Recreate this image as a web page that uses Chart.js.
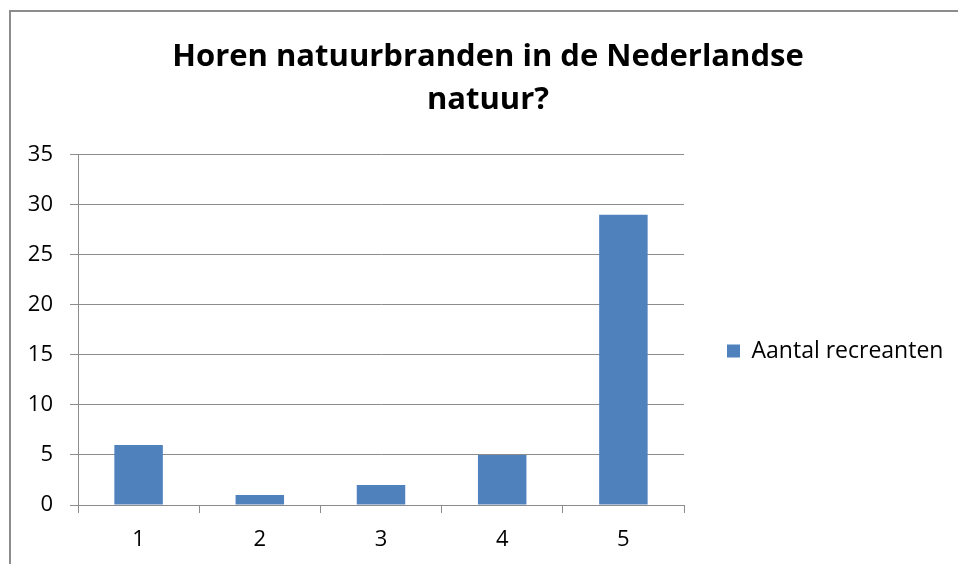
<!DOCTYPE html>
<html>
<head>
<meta charset="utf-8">
<script src="https://cdn.jsdelivr.net/npm/chart.js@4/dist/chart.umd.min.js"></script>
<style>
  html, body { margin: 0; padding: 0; background: #fff; }
  #wrap { position: absolute; left: 0; top: 0; width: 958px; height: 564px; }
</style>
</head>
<body>
<div id="wrap"><canvas id="chart" width="958" height="564"></canvas></div>
<script>
// chart data
const categories = ['1', '2', '3', '4', '5'];
const aantalRecreanten = [6, 1, 2, 5, 29];
const seriesLabel = 'Aantal recreanten';
const titleLines = ['Horen natuurbranden in de Nederlandse', 'natuur?'];
const yMin = 0;
const yMax = 35;
const yStep = 5;

// grey frame round the chart, like the office export
const framePlugin = {
    id: 'frame',
    beforeDraw(chart) {
        const ctx = chart.ctx;
        ctx.save();
        ctx.fillStyle = '#fff';
        ctx.fillRect(0, 0, chart.width, chart.height);
        ctx.strokeStyle = '#8c8c8c';
        ctx.lineWidth = 2;
        ctx.strokeRect(10, 11, chart.width + 20, chart.height + 20);
        ctx.restore();
    }
};

// keep the legend column a fixed width so the plot ends where the original does,
// and drop the legend a bit lower, as in the original
const legendWidthPlugin = {
    id: 'legendWidth',
    beforeUpdate(chart) {
        const legend = chart.legend;
        if (!legend || legend._fixed) return;
        const fit = legend.fit.bind(legend);
        legend.fit = function() {
            fit();
            this.width = 274;
        };
        legend._fixed = true;
    },
    afterLayout(chart) {
        const legend = chart.legend;
        if (!legend) return;
        legend.top += 57;
        legend.bottom += 57;
    }
};

const font = "'Open Sans', 'Liberation Sans', sans-serif";

new Chart(document.getElementById('chart'), {
    type: 'bar',
    data: {
        labels: categories,
        datasets: [{
            label: seriesLabel,
            data: aantalRecreanten,
            backgroundColor: '#4f81bd',
            borderWidth: 0,
            barPercentage: 0.4,
            categoryPercentage: 1.0
        }]
    },
    options: {
        responsive: false,
        animation: false,
        layout: {
            padding: { left: 18, right: 0, top: 35, bottom: 11 }
        },
        plugins: {
            title: {
                display: true,
                text: titleLines,
                color: '#000',
                font: { family: font, size: 31, weight: 'bold', lineHeight: 1.4 },
                padding: { top: 0, bottom: 33 }
            },
            legend: {
                position: 'right',
                labels: {
                    boxWidth: 13,
                    boxHeight: 13,
                    color: '#000',
                    font: { family: font, size: 23 },
                    padding: 43
                }
            },
            tooltip: { enabled: false }
        },
        scales: {
            x: {
                afterFit(scale) { scale.height = 48; },
                grid: {
                    offset: true,
                    drawOnChartArea: false,
                    drawTicks: true,
                    tickLength: 8,
                    color: '#8c8c8c'
                },
                border: { color: '#8c8c8c' },
                ticks: {
                    color: '#000',
                    font: { family: font, size: 22 },
                    padding: 14
                }
            },
            y: {
                min: yMin,
                max: yMax,
                afterFit(scale) { scale.width = 60; },
                grid: {
                    color: '#8c8c8c',
                    tickLength: 8
                },
                border: { color: '#8c8c8c' },
                ticks: {
                    stepSize: yStep,
                    color: '#000',
                    font: { family: font, size: 22 },
                    padding: 17
                }
            }
        }
    },
    plugins: [framePlugin, legendWidthPlugin]
});
</script>
</body>
</html>
